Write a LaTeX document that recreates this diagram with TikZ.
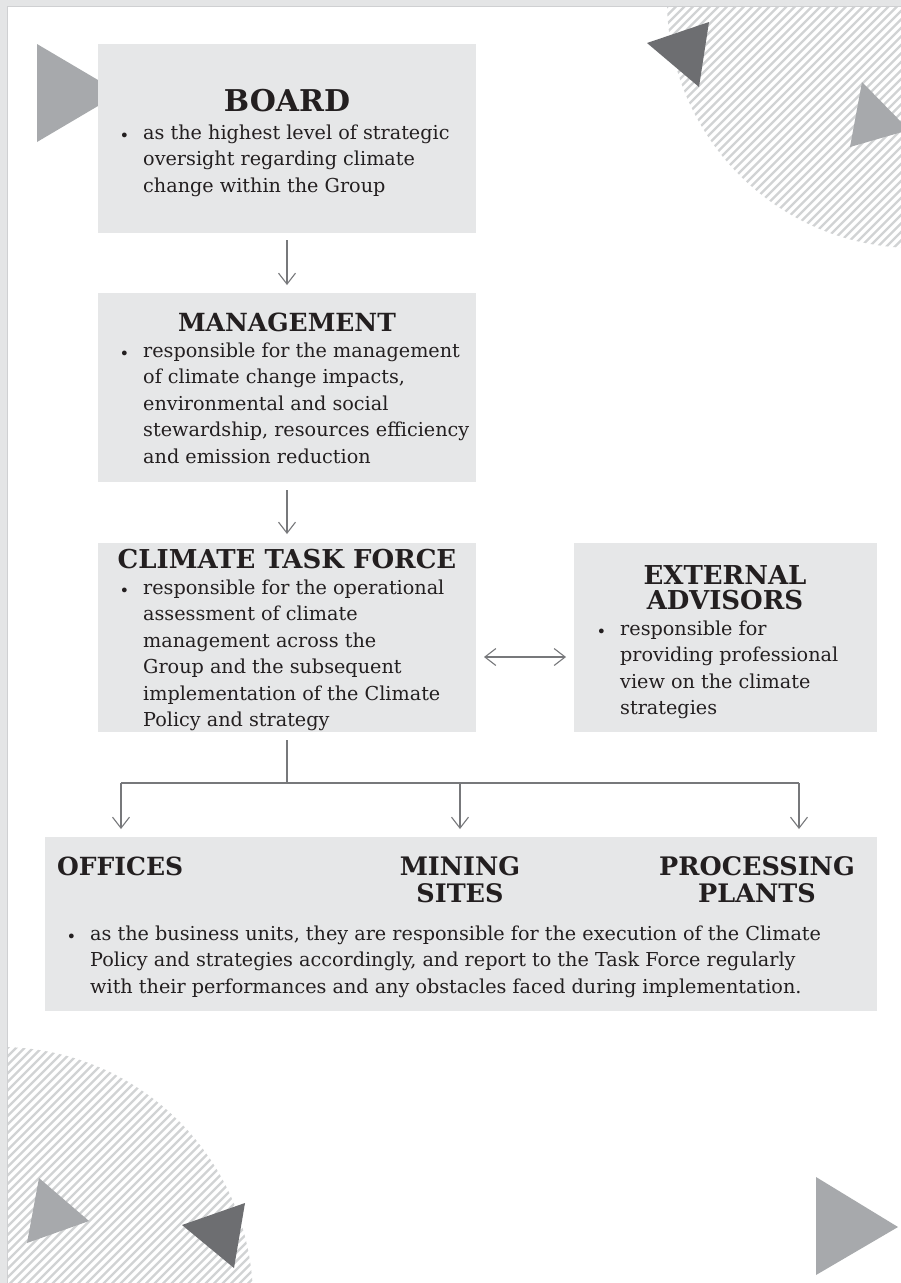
\documentclass[tikz,border=0pt]{standalone}
\usepackage{fontspec}
\setmainfont{DejaVu Serif}
\usetikzlibrary{arrows.meta}

\definecolor{boxgray}{HTML}{E6E7E8}
\definecolor{ink}{HTML}{231F20}
\definecolor{trilight}{HTML}{A7A9AC}
\definecolor{tridark}{HTML}{6D6E71}
\definecolor{hatchgray}{HTML}{D1D3D4}
\definecolor{linegray}{HTML}{77787B}
\definecolor{pagegray}{HTML}{E4E5E6}
\definecolor{edgegray}{HTML}{CFD0D2}

% type sizes (1pt = 1px of the layout grid)
\newcommand{\headsize}{\fontsize{26}{25}\selectfont\bfseries}
\newcommand{\bodysize}{\fontsize{19.2}{26.5}\selectfont}
\newcommand{\bulletmark}{\llap{\raisebox{-2.6pt}{\scalebox{0.85}{\textbullet}}\hspace{14pt}}}
\newcommand{\bodypar}[2]{\parbox[t]{#1}{\bodysize\leavevmode\bulletmark #2}}
\newcommand{\headpar}[2]{\parbox[t]{#1}{\centering\headsize #2}}

\begin{document}
\begin{tikzpicture}[x=1pt,y=-1pt,
  panel/.style={fill=boxgray, draw=none, inner sep=0, outer sep=0, anchor=north west},
  headtext/.style={inner sep=0, anchor=base, text=ink},
  bodytext/.style={inner sep=0, anchor=base west, text=ink},
  conn/.style={draw=linegray, line width=1.1pt},
  arr/.style={conn, -{Straight Barb[length=11pt, width=17pt]}},
  dblarr/.style={conn, {Straight Barb[length=11pt, width=17pt]}-{Straight Barb[length=11pt, width=17pt]}},
  hatchline/.style={draw=hatchgray, line width=2.2pt},
  lighttri/.style={fill=trilight, draw=none},
  darktri/.style={fill=tridark, draw=none}]

\useasboundingbox (0,0) rectangle (901,1283);

% page sheet with its grey margin
\fill[pagegray] (0,0) rectangle (901,1283);
\fill[white] (8,7) rectangle (901,1283);
\draw[edgegray, line width=1pt] (7.5,1283) -- (7.5,6.5) -- (901,6.5);

% hatched quarter discs (lines of constant x+y)
\begin{scope}
  \clip (8,7) rectangle (901,1283);
  \clip (915,0) circle (248);
  \foreach \c in {640,648.5,...,1200}
    \draw[hatchline] (\c-400,400) -- (\c+10,-10);
\end{scope}
\begin{scope}
  \clip (8,7) rectangle (901,1283);
  \clip (0,1300) circle (253);
  \foreach \c in {1030,1038.5,...,1600}
    \draw[hatchline] (\c-1400,1400) -- (\c-1000,1000);
\end{scope}

% decorative triangles
\fill[lighttri] (37,44) -- (37,142) -- (120,93) -- cycle;
\fill[darktri]  (647,43) -- (709,22) -- (699,87) -- cycle;
\fill[lighttri] (862,82) -- (909,130) -- (850,147) -- cycle;
\fill[lighttri] (39,1178) -- (89,1221) -- (27,1243) -- cycle;
\fill[darktri]  (182,1225) -- (245,1203) -- (234,1268) -- cycle;
\fill[lighttri] (816,1177) -- (898,1227) -- (816,1275) -- cycle;

% panels
\node[panel, minimum width=378, minimum height=189] (board) at (98,44) {};
\node[panel, minimum width=378, minimum height=189] (mgmt)  at (98,293) {};
\node[panel, minimum width=378, minimum height=189] (task)  at (98,543) {};
\node[panel, minimum width=303, minimum height=189] (ext)   at (574,543) {};
\node[panel, minimum width=832, minimum height=174] (units) at (45,837) {};

% headings
\node[headtext] (boardH) at (287,111) {\headpar{360pt}{\fontsize{30}{30}\selectfont BOARD}};
\node[headtext] (mgmtH)  at (287,331) {\headpar{360pt}{\fontsize{25}{25}\selectfont MANAGEMENT}};
\node[headtext] (taskH)  at (287,568) {\headpar{370pt}{CLIMATE TASK FORCE}};
\node[headtext] (extH)   at (725,584) {\headpar{290pt}{EXTERNAL\\ADVISORS}};
\node[inner sep=0, anchor=base west, text=ink] (offH) at (57,875) {\headsize\fontsize{25}{25}\selectfont OFFICES};
\node[headtext] (minH)  at (460,875) {\headpar{200pt}{\fontsize{25.5}{27}\selectfont MINING\\SITES}};
\node[headtext] (procH) at (757,875) {\headpar{220pt}{\fontsize{25.5}{27}\selectfont PROCESSING\\PLANTS}};

% descriptions
\node[bodytext] (boardT) at (143,139) {\bodypar{330pt}{as the highest level of strategic\\oversight regarding climate\\change within the Group}};
\node[bodytext] (mgmtT) at (143,357) {\bodypar{330pt}{responsible for the management\\of climate change impacts,\\environmental and social\\stewardship, resources efficiency\\and emission reduction}};
\node[bodytext] (taskT) at (143,594) {\bodypar{330pt}{responsible for the operational\\assessment of climate\\management across the\\Group and the subsequent\\implementation of the Climate\\Policy and strategy}};
\node[bodytext] (extT) at (620,635) {\bodypar{250pt}{responsible for\\providing professional\\view on the climate\\strategies}};
\node[bodytext] (unitsT) at (90,940) {\bodypar{780pt}{as the business units, they are responsible for the execution of the Climate\\Policy and strategies accordingly, and report to the Task Force regularly\\with their performances and any obstacles faced during implementation.}};

% reporting lines
\draw[arr, shorten <=7pt, shorten >=8pt] (board.south) -- (mgmt.north);
\draw[arr, shorten <=8pt, shorten >=9pt] (mgmt.south) -- (task.north);
\draw[dblarr, shorten <=8pt, shorten >=8pt] ([yshift=-19.5pt]task.east) -- ([yshift=-19.5pt]ext.west);

\coordinate (split) at (287,783);
\coordinate (tl) at (121,783);
\coordinate (tm) at (460,783);
\coordinate (tr) at (799,783);
\draw[conn, shorten <=8pt] (task.south) -- (split);
\draw[conn] (tl) -- (tr);
\draw[arr, shorten >=8pt] (tl) -- (tl |- units.north);
\draw[arr, shorten >=8pt] (tm) -- (tm |- units.north);
\draw[arr, shorten >=8pt] (tr) -- (tr |- units.north);
\end{tikzpicture}
\end{document}
